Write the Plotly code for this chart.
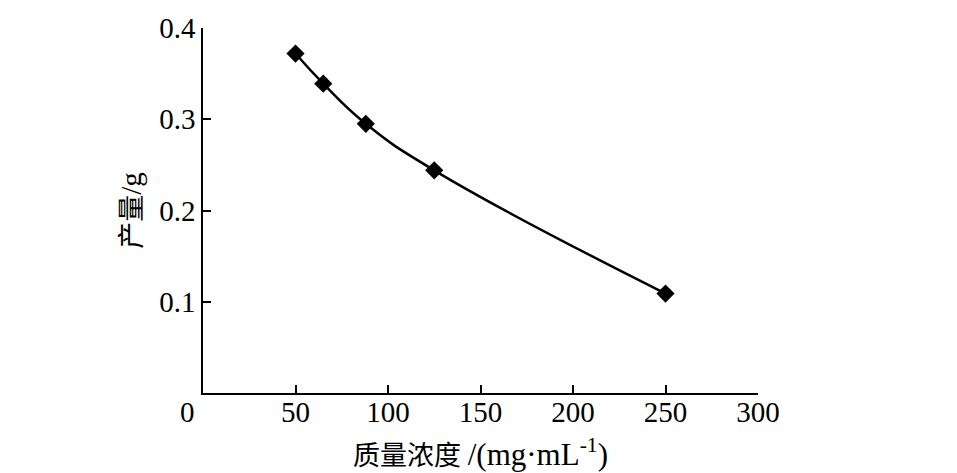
import plotly.graph_objects as go

concentration = [50, 65, 88, 125, 250]
yield_g = [0.372, 0.339, 0.295, 0.244, 0.109]
x_ticks = [50, 100, 150, 200, 250, 300]
y_ticks = [0.1, 0.2, 0.3, 0.4]
y_tick_text = ["0.1", "0.2", "0.3", "0.4"]

serif = "Liberation Serif, Times New Roman, serif"
cjk = "Liberation Serif, Noto Sans CJK SC, serif"

fig = go.Figure()
fig.add_trace(go.Scatter(
    x=concentration, y=yield_g, mode="lines+markers",
    line=dict(color="black", width=2.5, shape="spline", smoothing=1.3),
    marker=dict(symbol="diamond", size=14, color="black"),
    showlegend=False,
))

fig.update_layout(
    width=949, height=465,
    margin=dict(l=195, r=199, t=20, b=80),
    paper_bgcolor="white", plot_bgcolor="white",
    xaxis=dict(
        range=[0, 300], tickvals=x_ticks, ticktext=[str(v) for v in x_ticks],
        showline=True, linecolor="black", linewidth=1.5,
        ticks="inside", ticklen=8, tickwidth=1.5, tickcolor="black",
        ticklabelstandoff=-8,
        showgrid=False, zeroline=False, automargin=False,
        tickfont=dict(family=serif, size=29, color="black"),
        title=dict(text="质量浓度 <span style='font-size:31px'>/(mg·mL<sup>-1</sup>)</span>",
                   font=dict(family=cjk, size=27, color="black"), standoff=20),
    ),
    yaxis=dict(
        range=[0, 0.4], tickvals=y_ticks, ticktext=y_tick_text,
        showline=True, linecolor="black", linewidth=1.5,
        ticks="inside", ticklen=8, tickwidth=1.5, tickcolor="black",
        showgrid=False, zeroline=False, automargin=False,
        tickfont=dict(family=serif, size=29, color="black"),
        title=dict(text="产量<span style='font-size:29px'>/g</span>",
                   font=dict(family=cjk, size=27, color="black"), standoff=10),
    ),
    annotations=[dict(
        x=0, y=0, xref="x", yref="y", text="0", showarrow=False,
        xshift=-16, yshift=-19, font=dict(family=serif, size=29, color="black"),
    )],
)

fig.write_html("out.html")
